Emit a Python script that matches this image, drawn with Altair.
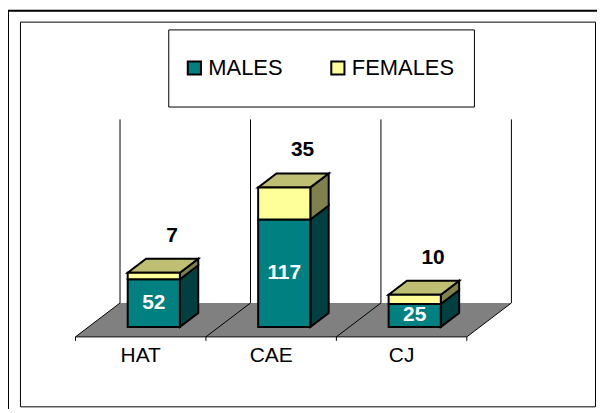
import altair as alt
import pandas as pd

# ---- data ----
categories = ["HAT", "CAE", "CJ"]
males = [52, 117, 25]
females = [7, 35, 10]
series = ["MALES", "FEMALES"]
axis_max = 200

# ---- styling ----
TEAL, TEAL_SIDE = "#008080", "#004040"
YEL, YEL_TOP, YEL_SIDE = "#FFFF99", "#BFBF73", "#80804D"
FLOOR = "#808080"
FONT = "Liberation Sans"

# ---- pseudo-3D projection (category units / value units) ----
W, H = 577, 386
PX_PER_CAT = 130.9
PX_PER_VAL = 0.921
DEPTH_X = 44.7 / PX_PER_CAT
DEPTH_Y = 34.0 / PX_PER_VAL
Z_FRONT, Z_BACK = 0.294, 0.706
BAR_L, BAR_R = 0.30, 0.70
X0_PX, Y0_PX = 55.7, 316.3
x_dom = [-X0_PX / PX_PER_CAT, (W - X0_PX) / PX_PER_CAT]
y_dom = [-(H - Y0_PX) / PX_PER_VAL, Y0_PX / PX_PER_VAL]


def P(c, v, z):
    return c + z * DEPTH_X, v + z * DEPTH_Y


n = len(categories)
fronts, others, floor = [], [], []
for i, cat in enumerate(categories):
    m, f = males[i], females[i]
    segs = [("MALES", 0, m, TEAL_SIDE), ("FEMALES", m, m + f, YEL_SIDE)]
    for name, lo, hi, side_col in segs:
        for cc in (BAR_L, BAR_R):
            x, ylo = P(i + cc, lo, Z_FRONT)
            _, yhi = P(i + cc, hi, Z_FRONT)
            fronts.append(dict(face=f"{cat}-{name}-front", series=name, X=x, Y=ylo, Y2=yhi))
        for z in (Z_FRONT, Z_BACK):
            x, ylo = P(i + BAR_R, lo, z)
            _, yhi = P(i + BAR_R, hi, z)
            others.append(dict(face=f"{cat}-{name}-side", fill=side_col, X=x, Y=ylo, Y2=yhi))
    hi = m + f
    xl_f, yf = P(i + BAR_L, hi, Z_FRONT)
    xl_b, yb = P(i + BAR_L, hi, Z_BACK)
    xr_f, _ = P(i + BAR_R, hi, Z_FRONT)
    xr_b, _ = P(i + BAR_R, hi, Z_BACK)
    for x, y1, y2 in [(xl_f, yf, yf), (xl_b, yf, yb), (xr_f, yf, yb), (xr_b, yb, yb)]:
        others.append(dict(face=f"{cat}-top", fill=YEL_TOP, X=x, Y=y1, Y2=y2))

# floor parallelogram
fx0, fy0 = P(0, 0, 0)
fx0b, fy1 = P(0, 0, 1)
fx1, _ = P(n, 0, 0)
fx1b, _ = P(n, 0, 1)
for x, y1, y2 in [(fx0, fy0, fy0), (fx0b, fy0, fy1), (fx1, fy0, fy1), (fx1b, fy1, fy1)]:
    floor.append(dict(X=x, Y=y1, Y2=y2))

# lines: floor edges, dividers, back-wall verticals, ticks
lines = []
lines.append(dict(X=P(0, 0, 0)[0], Y=0, X2=P(n, 0, 0)[0], Y2=0))
for c in range(n + 1):
    xa, ya = P(c, 0, 0)
    xb, yb = P(c, 0, 1)
    lines.append(dict(X=xa, Y=ya, X2=xb, Y2=yb))
    _, yt = P(c, axis_max, 1)
    lines.append(dict(X=xb, Y=yb, X2=xb, Y2=yt))
    lines.append(dict(X=xa, Y=0, X2=xa, Y2=-4 / PX_PER_VAL))

# labels
cat_lab = pd.DataFrame([dict(X=i + 0.5, Y=-19.5 / PX_PER_VAL, t=c) for i, c in enumerate(categories)])
male_lab = pd.DataFrame([
    dict(X=P(i + 0.5, 0, Z_FRONT)[0], Y=P(0, males[i] / 2, Z_FRONT)[1], t=str(males[i]))
    for i in range(n)])
fem_lab = pd.DataFrame([
    dict(X=P(i + 0.5, 0, Z_BACK)[0], Y=P(0, males[i] + females[i], Z_BACK)[1] + 23 / PX_PER_VAL,
         t=str(females[i]))
    for i in range(n)])

xs = alt.Scale(domain=x_dom, nice=False, zero=False)
ys = alt.Scale(domain=y_dom, nice=False, zero=False)
X = alt.X("X:Q", scale=xs, axis=None)
Y = alt.Y("Y:Q", scale=ys, axis=None, stack=None)

deco = alt.Data(values=[{}])
outer = alt.Chart(deco).mark_rect(fill="transparent", stroke="black", strokeWidth=2).encode(
    x=alt.value(-12), x2=alt.value(640), y=alt.value(-11), y2=alt.value(440))
legbox = alt.Chart(deco).mark_rect(fill="white", stroke="black", strokeWidth=1).encode(
    x=alt.value(149.3), x2=alt.value(456), y=alt.value(8.3), y2=alt.value(85.7))

floor_l = alt.Chart(pd.DataFrame(floor)).mark_area(color=FLOOR, opacity=1).encode(
    x=X, y=Y, y2="Y2:Q")
lines_l = alt.Chart(pd.DataFrame(lines)).mark_rule(color="black", strokeWidth=1).encode(
    x=X, y=alt.Y("Y:Q", scale=ys, axis=None), x2="X2:Q", y2="Y2:Q")
others_l = alt.Chart(pd.DataFrame(others)).mark_area(
    stroke="black", strokeWidth=2, opacity=1, strokeJoin="miter").encode(
    x=X, y=Y, y2="Y2:Q", fill=alt.Fill("fill:N", scale=None), detail="face:N")
fronts_l = alt.Chart(pd.DataFrame(fronts)).mark_area(
    stroke="black", strokeWidth=2, opacity=1, strokeJoin="miter").encode(
    x=X, y=Y, y2="Y2:Q", detail="face:N",
    fill=alt.Fill("series:N", scale=alt.Scale(domain=series, range=[TEAL, YEL]),
                  legend=alt.Legend(title=None, orient="none", direction="horizontal",
                                    legendX=164, legendY=35.5, padding=0,
                                    symbolType="square", symbolSize=175,
                                    symbolStrokeColor="black", symbolStrokeWidth=2,
                                    labelFontSize=22, labelFont=FONT, labelColor="black",
                                    labelOffset=3, columnPadding=44)))

txt_cat = alt.Chart(cat_lab).mark_text(font=FONT, fontSize=21, color="black", baseline="middle").encode(
    x=X, y=alt.Y("Y:Q", scale=ys, axis=None), text="t:N")
txt_m = alt.Chart(male_lab).mark_text(font=FONT, fontSize=21, fontWeight="bold", color="white",
                                      baseline="middle").encode(
    x=X, y=alt.Y("Y:Q", scale=ys, axis=None), text="t:N")
txt_f = alt.Chart(fem_lab).mark_text(font=FONT, fontSize=21, fontWeight="bold", color="black",
                                     baseline="middle").encode(
    x=X, y=alt.Y("Y:Q", scale=ys, axis=None), text="t:N")

chart = alt.layer(outer, legbox, floor_l, lines_l, others_l, fronts_l, txt_cat, txt_m, txt_f).properties(
    width=W, height=H,
    autosize=alt.AutoSizeParams(type="none"),
    padding={"left": 12, "top": 13, "right": 2, "bottom": 2},
    background="white",
).configure_view(stroke="black", strokeWidth=1)

chart.save("out.html", embed_options={"renderer": "svg", "actions": False})
